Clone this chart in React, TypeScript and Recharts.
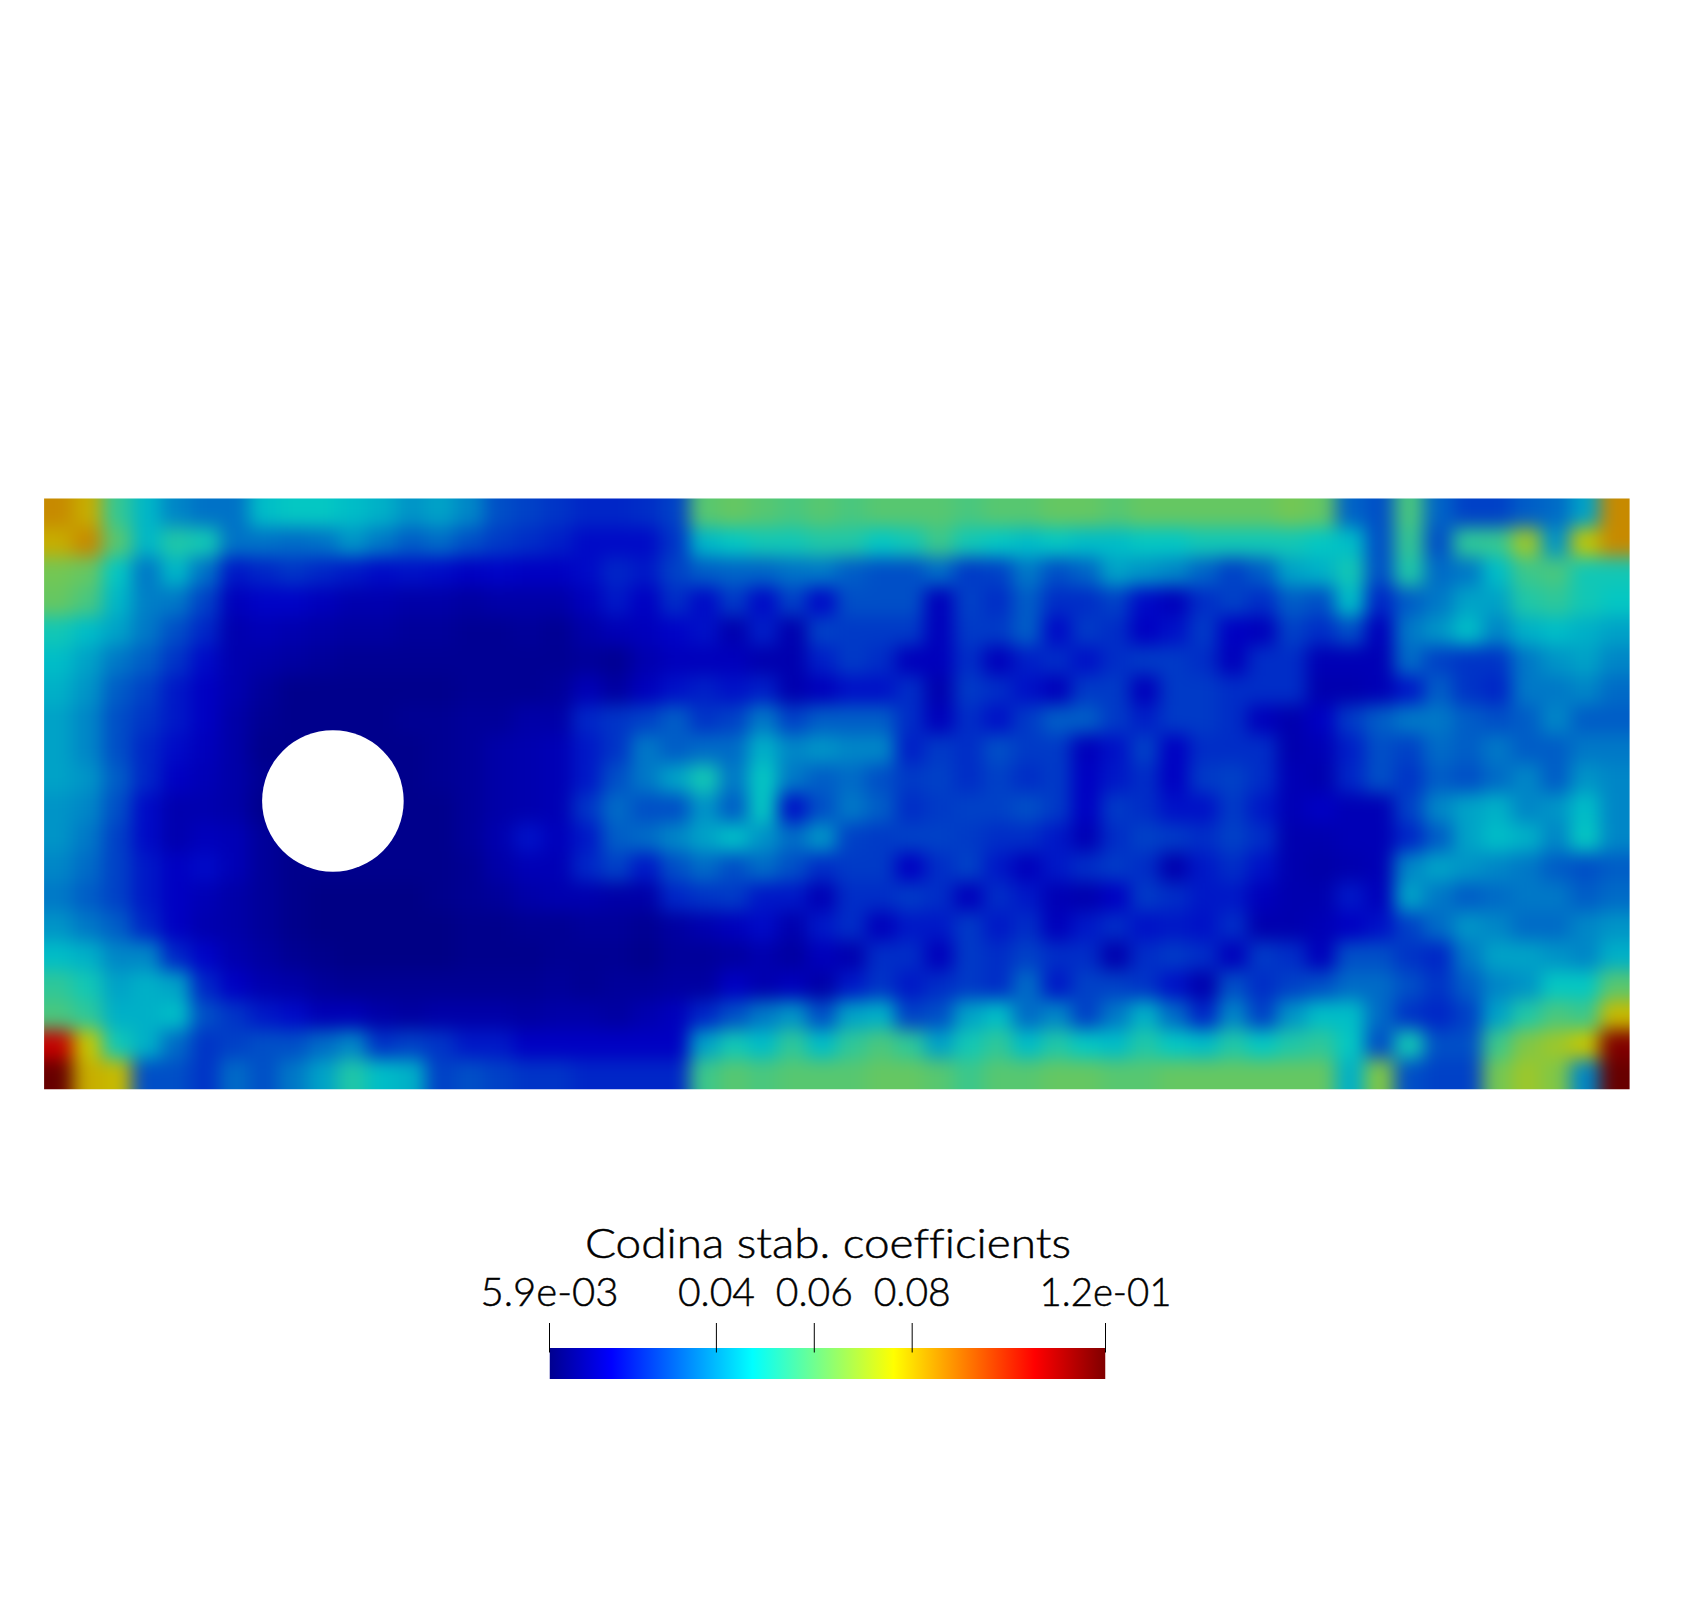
import React from 'react';
import { ScatterChart, Scatter, XAxis, YAxis, ReferenceDot, BarChart, Bar } from 'recharts';

// coefficient values x 1000, top row first
const row00 = [85,80,55,45,38,35,35,46,48,48, 46,44,40,42,38,30,28,26,24,24, 25,28,60,62,60,58,60,58,60,60, 60,58,60,60,62,62,60,62,62,62, 62,62,64,62,33,30,58,33,28,28, 32,34,42,85];
const row01 = [80,85,60,45,52,50,35,35,34,35, 40,36,32,34,30,27,25,23,20,20, 20,26,45,48,50,50,52,52,48,50, 56,50,48,46,48,46,46,48,48,50, 50,50,50,48,46,30,55,30,54,55, 70,40,75,85];
const row02 = [64,62,48,36,45,35,22,24,26,24, 22,20,21,20,18,19,18,18,20,24, 22,28,32,33,33,35,36,32,30,30, 34,27,28,36,30,33,42,40,38,33, 28,32,42,44,50,30,52,34,36,46, 56,58,50,50];
const row03 = [62,58,45,37,36,28,17,19,19,17, 15,15,14,14,13,14,14,14,17,22, 18,25,20,27,20,28,20,30,30,30, 17,28,25,32,25,25,28,20,17,25, 28,25,32,30,46,24,32,36,42,42, 52,54,50,48];
const row04 = [50,46,42,36,30,24,15,16,15,14, 13,13,12,12,11,11,12,11,14,16, 17,19,21,15,23,15,28,27,27,27, 17,27,27,32,20,27,25,18,21,27, 18,17,28,25,30,17,36,40,46,38, 44,46,44,42];
const row05 = [46,42,36,32,26,20,15,14,13,12, 11,11,11,11,11,11,11,11,12,11, 15,17,17,17,15,15,23,27,25,17, 17,25,17,23,25,21,25,27,27,25, 17,25,25,16,16,16,34,28,26,26, 36,40,42,38];
const row06 = [44,40,32,28,22,18,15,12,10,10, 10,10,10,10,11,11,11,12,16,13, 17,21,23,21,23,15,17,21,21,25, 15,27,25,21,17,27,27,17,27,27, 25,25,25,15,15,16,22,32,26,24, 36,36,38,34];
const row07 = [42,38,30,26,22,18,14,11,10,10, 10,10,11,11,12,12,14,14,24,26, 28,32,26,28,36,28,32,32,32,25, 17,25,21,27,32,32,27,23,27,27, 25,17,15,18,27,32,36,36,32,30, 32,38,32,32];
const row08 = [42,38,30,24,20,17,14,10,10,10, 10,10,10,11,12,14,15,16,22,26, 36,32,34,34,44,38,40,38,38,23, 27,25,30,27,27,17,21,28,18,25, 25,25,15,16,23,30,28,34,32,36, 32,32,36,36];
const row09 = [42,40,32,24,18,16,14,11,10,10, 10,10,10,11,12,14,15,16,22,30, 36,42,50,36,48,36,32,34,30,27, 28,25,28,25,27,18,22,25,18,27, 28,25,16,15,24,30,26,32,30,34, 38,32,40,38];
const row10 = [40,38,30,20,15,15,14,10,10,10, 10,10,10,10,12,14,15,16,26,34, 30,30,40,32,48,21,30,36,32,25, 27,28,28,30,27,18,27,25,21,21, 27,22,16,18,16,16,28,38,42,44, 38,40,46,38];
const row11 = [40,36,28,20,15,17,16,12,10,10, 10,10,10,10,12,15,21,17,22,32, 34,38,42,46,40,34,40,28,27,28, 28,27,25,25,22,16,25,28,27,25, 28,25,15,15,16,16,24,32,42,46, 44,38,48,38];
const row12 = [38,34,28,22,18,20,16,12,10,10, 10,10,10,10,11,14,16,16,24,28, 22,30,34,30,34,30,25,27,27,18, 25,28,22,17,22,25,27,25,15,22, 25,21,15,14,15,16,38,42,40,38, 36,32,30,32];
const row13 = [36,32,28,22,18,16,14,12,10,9, 9,9,9,10,11,12,14,15,15,14, 14,24,26,27,22,22,16,25,25,27, 25,17,25,22,16,15,18,27,25,22, 22,17,15,15,22,17,42,36,32,34, 36,36,32,34];
const row14 = [40,36,32,24,18,15,14,12,10,9, 9,9,9,9,10,10,11,11,12,12, 11,13,15,17,20,15,22,25,17,22, 22,27,22,25,17,22,25,21,22,21, 25,15,15,16,18,21,28,34,40,38, 34,34,38,40];
const row15 = [46,44,38,38,24,19,15,13,11,10, 9,9,9,9,10,10,10,11,11,11, 10,12,12,13,15,13,17,15,25,25, 17,27,25,28,25,25,15,25,27,25, 17,27,25,17,30,30,26,24,36,42, 42,40,38,44];
const row16 = [54,50,42,44,42,24,18,15,14,12, 11,11,11,11,11,11,11,12,11,12, 12,13,13,18,15,17,14,22,26,22, 25,27,25,34,22,28,28,26,21,15, 30,25,28,30,34,34,30,26,32,38, 40,48,48,60];
const row17 = [58,54,44,44,46,30,26,22,20,16, 16,14,13,14,14,14,13,14,14,13, 15,17,24,30,36,40,30,42,44,28, 30,42,46,34,38,28,36,44,34,24, 38,28,40,46,46,34,26,24,28,42, 52,58,56,78];
const row18 = [105,76,50,44,34,26,28,30,30,34, 38,26,28,26,22,22,18,18,18,18, 18,18,42,50,46,54,46,54,58,54, 42,50,54,46,52,48,46,52,48,46, 52,48,52,54,48,30,50,30,30,56, 66,70,76,115];
const row19 = [119,80,78,30,30,26,34,30,36,42, 52,46,44,28,30,28,26,26,24,24, 24,24,56,60,58,60,60,60,62,62, 60,56,60,60,62,62,60,60,62,62, 62,62,62,62,44,66,30,28,28,64, 70,66,38,119];
const rows = [row00,row01,row02,row03,row04,row05,row06,row07,row08,row09,row10,row11,row12,row13,row14,row15,row16,row17,row18,row19];

const cells = rows.flatMap((r, j) => r.map((v, i) => ({ x: i + 0.5, y: j + 0.5, v: v / 1000, i, j })));
const COLS = 54, ROWS = 20;

const scaleMin = 0.0059, scaleMax = 0.1195;
const barTicks = [0.0059, 0.04, 0.06, 0.08, 0.1195];
const barTickLabels = ['5.9e-03', '0.04', '0.06', '0.08', '1.2e-01'];
const barTickWidths = [138, 77, 77, 77, 132];
const barRange = [{ name: 'scale', range: [scaleMin, scaleMax] }];
const title = 'Codina stab. coefficients';

// ParaView "jet" preset: fraction, r, g, b
const jet: number[][] = [
  [0, 0, 0, 0.5625], [0.1111, 0, 0, 1], [0.3651, 0, 1, 1], [0.4921, 0.5, 1, 0.5],
  [0.6190, 1, 1, 0], [0.8730, 1, 0, 0], [1, 0.5, 0, 0],
];
const lit = 0.78;
const jetCss = (f: number, k: number) => {
  const t = Math.min(1, Math.max(0, f));
  let a = jet[0], b = jet[1];
  for (let n = 0; n < jet.length - 1; n++) if (t >= jet[n][0] && t <= jet[n + 1][0]) { a = jet[n]; b = jet[n + 1]; break; }
  const u = (t - a[0]) / (b[0] - a[0]);
  const c = [1, 2, 3].map((q) => Math.round(255 * k * (a[q] + (b[q] - a[q]) * u)));
  return `rgb(${c[0]},${c[1]},${c[2]})`;
};

const PL = 44.1, PR = 1629.6, PT = 498.4, PB = 1089.3;
const cw = (PR - PL) / COLS, ch = (PB - PT) / ROWS;

const Cell = (p: any) => {
  const { cx, cy, payload } = p;
  const pad = 40;
  let x0 = cx - cw / 2 - 0.5, x1 = cx + cw / 2 + 0.5, y0 = cy - ch / 2 - 0.5, y1 = cy + ch / 2 + 0.5;
  if (payload.i === 0) x0 -= pad;
  if (payload.i === COLS - 1) x1 += pad;
  if (payload.j === 0) y0 -= pad;
  if (payload.j === ROWS - 1) y1 += pad;
  return <rect x={x0} y={y0} width={x1 - x0} height={y1 - y0} fill={jetCss((payload.v - scaleMin) / (scaleMax - scaleMin), lit)} />;
};

const font = 'Lato, "Noto Sans", sans-serif';
const textStyle = { fontVariantLigatures: 'none' } as React.CSSProperties;

const BarTick = (p: any) => {
  const { x, y, index } = p;
  return (
    <g>
      <text x={x} y={y - 42} textAnchor="middle" fontFamily={font} fontWeight={300} fontSize={40} fill="#000" stroke="#000" strokeWidth={0.5} style={textStyle} textLength={barTickWidths[index]} lengthAdjust="spacingAndGlyphs">{barTickLabels[index]}</text>
      <line x1={x} x2={x} y1={y - 25} y2={y + 4.5} stroke="#000" strokeWidth={1} />
    </g>
  );
};

export default function App() {
  return (
    <div style={{ position: 'absolute', left: 0, top: 0, width: 1686, height: 1610, background: '#fff', overflow: 'hidden' }}>
      <style>{`.heat { filter: url(#smooth); clip-path: url(#plotClip); }`}</style>
      <svg width={0} height={0} style={{ position: 'absolute' }}>
        <defs>
          <filter id="smooth" filterUnits="userSpaceOnUse" x={0} y={400} width={1686} height={800} colorInterpolationFilters="sRGB">
            <feGaussianBlur stdDeviation={9} />
          </filter>
          <clipPath id="plotClip" clipPathUnits="userSpaceOnUse">
            <rect x={PL} y={PT} width={PR - PL} height={PB - PT} />
          </clipPath>
          <linearGradient id="jetBar" x1="0" x2="1" y1="0" y2="0">
            {jet.map((s) => <stop key={s[0]} offset={s[0]} stopColor={jetCss(s[0], 1)} />)}
          </linearGradient>
        </defs>
      </svg>
      <div style={{ position: 'absolute', left: 0, top: 0 }}>
        <ScatterChart width={1686} height={1200} margin={{ left: PL, right: 1686 - PR, top: PT, bottom: 1200 - PB }}>
          <XAxis type="number" dataKey="x" domain={[0, COLS]} hide />
          <YAxis type="number" dataKey="y" domain={[0, ROWS]} reversed hide />
          <Scatter data={cells} shape={Cell} className="heat" isAnimationActive={false} />
          <ReferenceDot x={9.836} y={10.24} r={70.8} fill="#fff" stroke="none" />
        </ScatterChart>
      </div>
      <div style={{ position: 'absolute', left: 0, top: 1200 }}>
        <BarChart layout="vertical" width={1686} height={200} data={barRange} barCategoryGap={0} margin={{ left: 549.5, right: 1686 - 1105.5, top: 88, bottom: 21.5 }}>
          <XAxis type="number" orientation="top" height={60} domain={[scaleMin, scaleMax]} ticks={barTicks} interval={0} tick={BarTick} tickSize={0} tickMargin={0} axisLine={false} tickLine={false} allowDataOverflow />
          <YAxis type="category" dataKey="name" hide />
          <Bar dataKey="range" fill="url(#jetBar)" isAnimationActive={false} />
          <text x={828} y={58} textAnchor="middle" fontFamily={font} fontWeight={300} fontSize={41} fill="#000" stroke="#000" strokeWidth={0.5} style={textStyle} textLength={486} lengthAdjust="spacingAndGlyphs">{title}</text>
        </BarChart>
      </div>
    </div>
  );
}
